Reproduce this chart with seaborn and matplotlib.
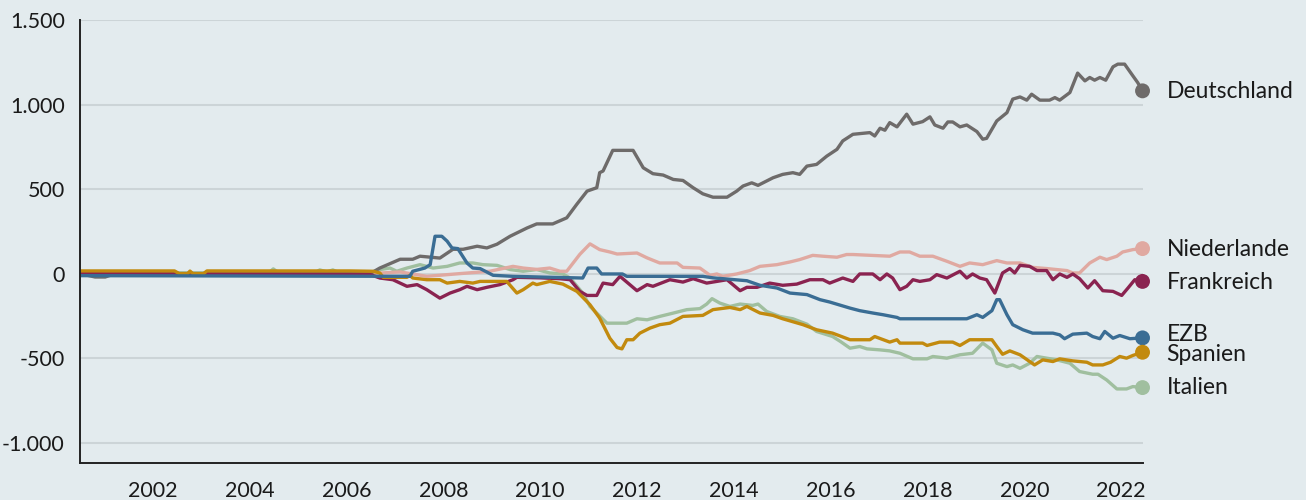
import pandas as pd
import seaborn as sns
import matplotlib.pyplot as plt

# Target2-Salden (Mrd. Euro); Zeit als Dezimaljahr
de_t = [2001.0, 2001.31, 2001.52, 2001.72, 2006.99, 2007.19, 2007.61, 2007.87, 2008.02, 2008.43,
        2008.70, 2008.91, 2009.20, 2009.40, 2009.61, 2009.88, 2010.23, 2010.43, 2010.76, 2011.05,
        2011.26, 2011.47, 2011.67, 2011.73, 2011.80, 2012.00, 2012.42, 2012.63, 2012.83, 2013.04,
        2013.25, 2013.45, 2013.66, 2013.86, 2014.07, 2014.36, 2014.56, 2014.69, 2014.87, 2015.00,
        2015.31, 2015.51, 2015.72, 2015.86, 2016.01, 2016.21, 2016.42, 2016.63, 2016.75, 2016.96,
        2017.31, 2017.41, 2017.52, 2017.62, 2017.72, 2017.87, 2018.07, 2018.20, 2018.40, 2018.55,
        2018.65, 2018.82, 2018.92, 2019.02, 2019.17, 2019.31, 2019.52, 2019.64, 2019.72, 2019.93,
        2020.14, 2020.26, 2020.41, 2020.55, 2020.65, 2020.82, 2021.02, 2021.13, 2021.23, 2021.44,
        2021.60, 2021.75, 2021.85, 2021.95, 2022.06, 2022.18, 2022.33, 2022.43, 2022.57, 2022.74,
        2022.84, 2022.94]
de_v = [0, -20, -20, 0, 0, 33, 85, 85, 103, 92,
        144, 144, 162, 152, 174, 221, 270, 294, 294, 330,
        411, 488, 508, 597, 607, 729, 729, 626, 591, 583,
        557, 551, 508, 472, 452, 452, 488, 518, 537, 522,
        567, 587, 597, 587, 636, 646, 695, 735, 785, 824,
        834, 814, 860, 848, 893, 868, 943, 884, 899, 927,
        879, 860, 897, 897, 868, 879, 840, 795, 800, 903,
        952, 1032, 1045, 1026, 1061, 1026, 1026, 1041, 1026, 1071,
        1186, 1140, 1160, 1144, 1160, 1144, 1223, 1239, 1239, 1170,
        1130, 1081]

nl_t = [2001.0, 2006.99, 2007.61, 2008.16, 2008.84, 2009.46, 2009.94, 2010.15, 2010.43, 2010.70,
        2010.91, 2011.05, 2011.32, 2011.53, 2011.73, 2011.94, 2012.09, 2012.50, 2012.71, 2012.97,
        2013.33, 2013.45, 2013.80, 2014.01, 2014.15, 2014.27, 2014.56, 2014.83, 2015.04, 2015.39,
        2015.66, 2015.86, 2016.13, 2016.34, 2016.63, 2016.83, 2016.96, 2017.72, 2017.93, 2018.13,
        2018.34, 2018.61, 2018.90, 2019.17, 2019.37, 2019.64, 2019.93, 2020.14, 2020.41, 2020.67,
        2020.96, 2021.38, 2021.50, 2021.64, 2021.85, 2022.06, 2022.20, 2022.41, 2022.53, 2022.74,
        2022.94]
nl_v = [0, 0, 10, -16, 0, 14, 43, 33, 25, 33,
        14, 14, 114, 176, 142, 128, 116, 122, 93, 63,
        63, 37, 33, -10, -2, -16, -2, 18, 43, 53,
        69, 83, 108, 103, 97, 113, 113, 103, 128, 128,
        103, 103, 73, 43, 63, 53, 77, 63, 63, 37,
        30, 18, 4, 4, 63, 97, 83, 103, 128, 142,
        148]

fr_t = [2001.0, 2006.99, 2007.19, 2007.46, 2007.75, 2007.96, 2008.16, 2008.43, 2008.64, 2008.84,
        2008.99, 2009.20, 2009.40, 2009.67, 2009.94, 2010.02, 2010.50, 2010.91, 2011.12, 2011.32,
        2011.47, 2011.67, 2011.80, 2012.00, 2012.15, 2012.29, 2012.50, 2012.71, 2012.83, 2013.18,
        2013.45, 2013.66, 2013.94, 2014.15, 2014.36, 2014.63, 2014.77, 2014.98, 2015.24, 2015.51,
        2015.80, 2016.07, 2016.34, 2016.48, 2016.75, 2016.96, 2017.10, 2017.37, 2017.52, 2017.66,
        2017.78, 2017.93, 2018.07, 2018.20, 2018.34, 2018.55, 2018.69, 2018.90, 2019.17, 2019.31,
        2019.43, 2019.58, 2019.72, 2019.89, 2020.05, 2020.20, 2020.30, 2020.41, 2020.61, 2020.76,
        2020.96, 2021.09, 2021.23, 2021.38, 2021.50, 2021.64, 2021.81, 2021.95, 2022.12, 2022.33,
        2022.51, 2022.64, 2022.78, 2022.94]
fr_v = [0, -5, -26, -36, -75, -65, -95, -145, -115, -95,
        -75, -95, -81, -65, -36, -22, -25, -30, -36, -105,
        -129, -129, -56, -65, -16, -50, -101, -65, -75, -36,
        -50, -30, -56, -46, -36, -101, -81, -81, -56, -69,
        -62, -36, -36, -56, -26, -46, -2, -2, -36, -2,
        -26, -95, -75, -36, -46, -36, -6, -26, 14, -26,
        -2, -26, -36, -115, 4, 30, 4, 49, 43, 18,
        18, -36, -2, -22, -2, -30, -85, -42, -101, -105,
        -129, -85, -36, -46]

ezb_t = [2001.0, 2007.81, 2007.87, 2008.12, 2008.23, 2008.33, 2008.47, 2008.58, 2008.68, 2008.80,
         2008.99, 2009.11, 2009.26, 2009.53, 2009.94, 2011.38, 2011.49, 2011.67, 2011.77, 2012.20,
         2012.29, 2013.86, 2014.07, 2014.77, 2015.04, 2015.39, 2015.66, 2016.01, 2016.28, 2016.48,
         2016.69, 2016.90, 2017.10, 2017.37, 2017.58, 2017.87, 2017.93, 2019.31, 2019.52, 2019.64,
         2019.83, 2019.93, 2019.99, 2020.14, 2020.26, 2020.47, 2020.67, 2021.09, 2021.23, 2021.33,
         2021.50, 2021.79, 2021.91, 2022.06, 2022.16, 2022.33, 2022.47, 2022.68, 2022.94]
ezb_v = [-12, -16, 14, 33, 53, 221, 221, 192, 152, 148,
         63, 33, 30, -10, -16, -26, 33, 33, -2, -2,
         -16, -16, -25, -42, -69, -85, -115, -124, -154, -168,
         -186, -204, -219, -233, -243, -259, -267, -267, -243, -259,
         -219, -154, -154, -243, -302, -332, -352, -352, -362, -385,
         -358, -352, -372, -385, -342, -382, -366, -385, -380]

es_t = [2001.0, 2002.95, 2003.05, 2003.22, 2003.27, 2003.33, 2003.55, 2003.62, 2006.57, 2007.05,
        2007.19, 2007.26, 2007.75, 2007.81, 2007.87, 2008.16, 2008.43, 2008.58, 2008.84, 2009.11,
        2009.26, 2009.81, 2010.02, 2010.15, 2010.35, 2010.43, 2010.70, 2010.97, 2011.26, 2011.53,
        2011.73, 2011.94, 2012.09, 2012.19, 2012.29, 2012.42, 2012.56, 2012.77, 2012.97, 2013.18,
        2013.45, 2013.86, 2014.07, 2014.42, 2014.63, 2014.77, 2015.04, 2015.31, 2015.51, 2015.93,
        2016.21, 2016.54, 2016.90, 2017.31, 2017.41, 2017.72, 2017.87, 2017.93, 2018.40, 2018.49,
        2018.75, 2019.02, 2019.17, 2019.37, 2019.83, 2019.93, 2020.05, 2020.20, 2020.41, 2020.71,
        2020.88, 2021.09, 2021.23, 2021.50, 2021.79, 2021.91, 2022.12, 2022.28, 2022.47, 2022.61,
        2022.74, 2022.94]
es_v = [16, 16, 0, 0, 15, 0, 0, 16, 16, 14,
        4, -22, -22, -10, -26, -36, -36, -56, -46, -56,
        -46, -46, -115, -95, -56, -65, -46, -62, -105, -184,
        -263, -382, -437, -445, -391, -391, -352, -322, -302, -293,
        -253, -247, -213, -200, -213, -194, -233, -247, -267, -302,
        -332, -352, -391, -391, -372, -405, -391, -411, -411, -425,
        -405, -405, -425, -391, -391, -431, -477, -457, -480, -540,
        -510, -520, -504, -516, -524, -540, -540, -524, -490, -500,
        -484, -465]

it_t = [2001.0, 2004.9, 2004.99, 2005.1, 2005.85, 2005.95, 2006.1, 2006.22, 2006.35, 2006.99,
        2007.19, 2007.40, 2007.54, 2007.75, 2008.02, 2008.29, 2008.58, 2008.84, 2009.11, 2009.32,
        2009.61, 2009.88, 2010.15, 2010.43, 2010.70, 2010.97, 2011.12, 2011.38, 2011.53, 2011.88,
        2012.29, 2012.50, 2012.71, 2012.97, 2013.24, 2013.53, 2013.80, 2013.94, 2014.05, 2014.21,
        2014.42, 2014.63, 2014.89, 2015.00, 2015.18, 2015.45, 2015.72, 2016.01, 2016.21, 2016.54,
        2016.70, 2016.90, 2017.10, 2017.25, 2017.52, 2017.72, 2017.93, 2018.20, 2018.49, 2018.61,
        2018.90, 2019.17, 2019.43, 2019.64, 2019.83, 2019.93, 2020.14, 2020.26, 2020.41, 2020.61,
        2020.76, 2020.96, 2021.17, 2021.44, 2021.64, 2021.91, 2022.02, 2022.20, 2022.41, 2022.61,
        2022.74, 2022.94]
it_v = [5, 5, 28, 5, 5, 22, 10, 22, 5, 5,
        24, 33, 14, 33, 53, 33, 43, 63, 63, 53,
        49, 24, 14, 24, 4, -2, -26, -115, -194, -293,
        -293, -267, -273, -253, -234, -213, -207, -180, -148, -174,
        -194, -180, -188, -180, -224, -253, -267, -299, -342, -372,
        -401, -441, -431, -445, -451, -457, -471, -504, -504, -490,
        -500, -480, -471, -411, -451, -530, -550, -540, -560, -530,
        -490, -500, -510, -530, -579, -595, -595, -629, -682, -682,
        -668, -674]

laender = ["Italien", "Niederlande", "Deutschland", "Frankreich", "Spanien", "EZB"]
farben = {"Deutschland": "#6e6b6a", "Niederlande": "#e0a9a1", "Frankreich": "#8a2350",
          "EZB": "#3a6d94", "Spanien": "#c28a0e", "Italien": "#a0bf9f"}
label_dy = {"Deutschland": -1, "Niederlande": -1, "Frankreich": -1, "EZB": 3, "Spanien": -2, "Italien": 0}

yticks = [-1000, -500, 0, 500, 1000, 1500]
ytick_labels = ["-1.000", "-500", "0", "500", "1.000", "1.500"]
jahre = [2002, 2004, 2006, 2008, 2010, 2012, 2014, 2016, 2018, 2020, 2022]

reihen = {"Deutschland": (de_t, de_v), "Niederlande": (nl_t, nl_v), "Frankreich": (fr_t, fr_v),
          "EZB": (ezb_t, ezb_v), "Spanien": (es_t, es_v), "Italien": (it_t, it_v)}
df = pd.concat([pd.DataFrame({"t": t, "wert": v, "land": k}) for k, (t, v) in reihen.items()],
               ignore_index=True)
letzte = df.groupby("land").tail(1)

bg = "#e3ebee"
sns.set_style("white")
plt.rcParams["font.family"] = ["Lato", "DejaVu Sans"]

fig = plt.figure(figsize=(13.06, 5), dpi=100, facecolor=bg)
ax = fig.add_axes([0.0613, 0.074, 0.8139, 0.886])
ax.set_facecolor(bg)

sns.lineplot(data=df, x="t", y="wert", hue="land", hue_order=laender, palette=farben,
             linewidth=2.4, legend=False, ax=ax, estimator=None, sort=False)
sns.scatterplot(data=letzte, x="t", y="wert", hue="land", hue_order=laender, palette=farben,
                s=115, linewidth=0, legend=False, ax=ax, clip_on=False, zorder=5)

for _, r in letzte.iterrows():
    ax.annotate(r["land"], xy=(r["t"], r["wert"]), xytext=(24, label_dy[r["land"]]),
                textcoords="offset pixels", va="center", ha="left", fontsize=16.5, color="#1a1a1a",
                annotation_clip=False)

ax.set_xlim(2001.0, 2022.95)
ax.set_ylim(-1120, 1500)
ax.set_yticks(yticks, labels=ytick_labels)
ax.set_xticks([j + 0.5 for j in jahre], labels=[str(j) for j in jahre])
ax.set_yticks([-1120], minor=True)
ax.set_xticks([2001.0], minor=True)
ax.yaxis.grid(True, color="#ccd4d7", linewidth=1.5)
ax.set_axisbelow(True)
ax.tick_params(axis="y", which="both", length=6, width=1.4, color="#222222", pad=5,
               labelsize=15.5, labelcolor="#1a1a1a")
ax.tick_params(axis="x", which="major", length=0, pad=13, labelsize=15.5, labelcolor="#1a1a1a")
ax.tick_params(axis="x", which="minor", length=6, width=1.4, color="#222222")
ax.set_xlabel("")
ax.set_ylabel("")
sns.despine(ax=ax)
for s in ["left", "bottom"]:
    ax.spines[s].set_color("#222222")
    ax.spines[s].set_linewidth(1.4)

fig.savefig("out.png", dpi=100, facecolor=bg)
